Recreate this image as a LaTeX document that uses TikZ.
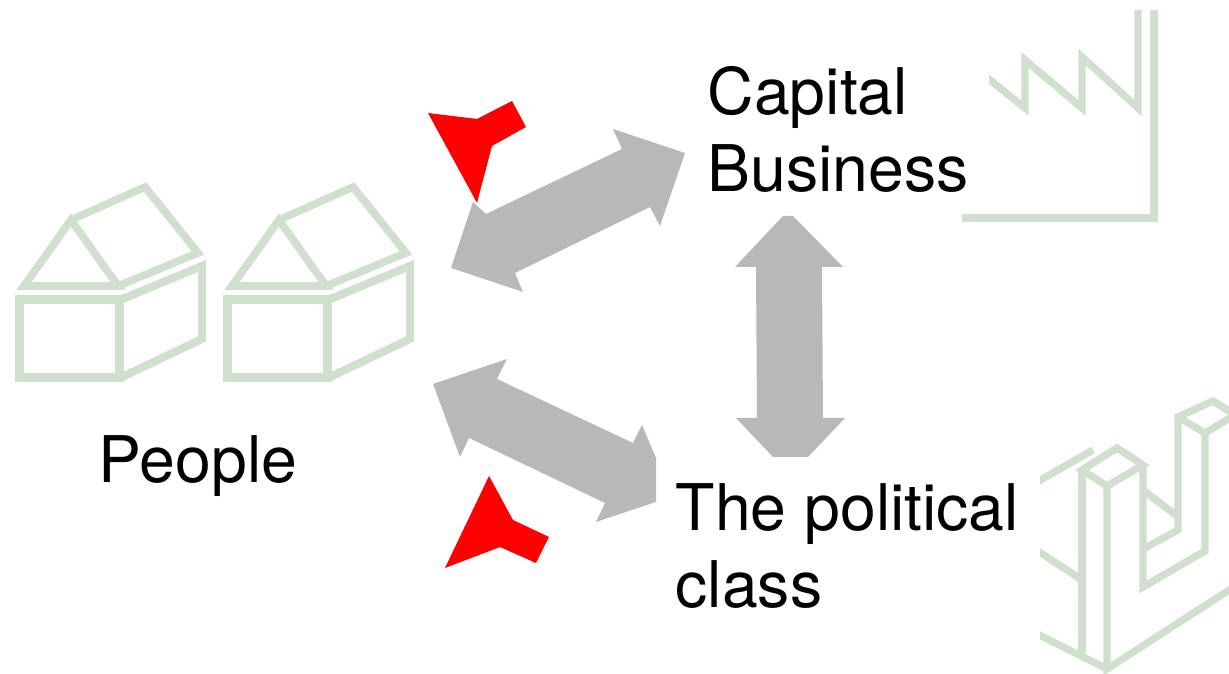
\documentclass[tikz,border=0pt]{standalone}
\usepackage{fontspec}
\setmainfont{TeX Gyre Heros}
\definecolor{palegreen}{HTML}{CFE0CD}
\definecolor{arrowgray}{HTML}{B7B8BA}
\tikzset{
  front/.style={draw=palegreen,line width=2.7pt},
  wall/.style={draw=palegreen,line width=2.3pt},
  roof/.style={draw=palegreen,line width=2.2pt},
  works/.style={draw=palegreen,line width=2.1pt},
  blockarrow/.style={fill=arrowgray},
  flag/.style={fill=red},
  label/.style={font=\fontsize{18.3}{21.9}\selectfont,align=left,inner sep=0pt,anchor=west}
}
\begin{document}
\begin{tikzpicture}[x=0.01cm,y=-0.01cm]
  \useasboundingbox (0,0) rectangle (1229,674);
  \draw[front](19.5,299.5)rectangle(119.5,377.5);
  \draw[wall](120,300)--(202,266)--(202,339)--(120,378);
  \draw[roof](24,286)--(71,220)--(118,286)--cycle;
  \draw[roof](71,220)--(145,187)--(198,253)--(118,286);
  \draw[front](227.5,299.5)rectangle(327.5,377.5);
  \draw[wall](328,300)--(410,266)--(410,339)--(328,378);
  \draw[roof](232,286)--(279,220)--(326,286)--cycle;
  \draw[roof](279,220)--(353,187)--(406,253)--(326,286);
  \draw[wall](962,218)--(1154,218)--(1154,10);
  \begin{scope}
    \clip(989,0)rectangle(1229,674);
    \draw[works](975,68)--(1025,108)--(1025,60)--(1082,108)--(1082,57)--(1138,108)--(1138,10);
  \end{scope}
  \begin{scope}
    \clip(1040,390)rectangle(1229,674);
    \draw[works](1082,470)--(1117,448)--(1143,465)--(1107,486)--cycle;
    \draw[works](1107,486)--(1107,669)--(1240,583);
    \draw[works](1082,470)--(1082,653);
    \draw[works](1143,465)--(1143,587)--(1205,551)--(1205,433);
    \draw[works](1030,486)--(1093,450);
    \draw[works](1030,546)--(1082,580);
    \draw[works](1033,632)--(1107,669);
    \draw[works](1143,490)--(1177,516);
    \draw[works](1145,548)--(1178,530)--(1178,417)--(1213,401)--(1240,418);
    \draw[works](1178,417)--(1205,433)--(1235,415);
  \end{scope}
  \fill[blockarrow](685,153)--(660,226)--(650,207)--(515,273)--(523,292)--(451,268)--(473,202)--(486,214)--(622,149)--(613,129)--cycle;
  \fill[blockarrow](433,384)--(507,359)--(497,379)--(633,443)--(642,425)--(656,458)--(656,502)--(596,522)--(605,503)--(469,438)--(460,457)--cycle;
  \fill[blockarrow](783,216)--(793,216)--(843,267)--(822,267)--(823,418)--(845,418)--(808,457)--(773,457)--(736,418)--(757,418)--(756,267)--(735,267)--cycle;
  \fill[flag](428,113)--(477,119)--(512,101)--(526,127)--(492,146)--(477,203)--cycle;
  \fill[flag](489,476)--(513,520)--(549,537)--(536,563)--(500,547)--(445,568)--cycle;
  \node[label](capital) at (707,129) {Capital\\Business};
  \node[label](people) at (98,466) {People};
  \node[label](political) at (675,546) {The political\\class};
\end{tikzpicture}
\end{document}
